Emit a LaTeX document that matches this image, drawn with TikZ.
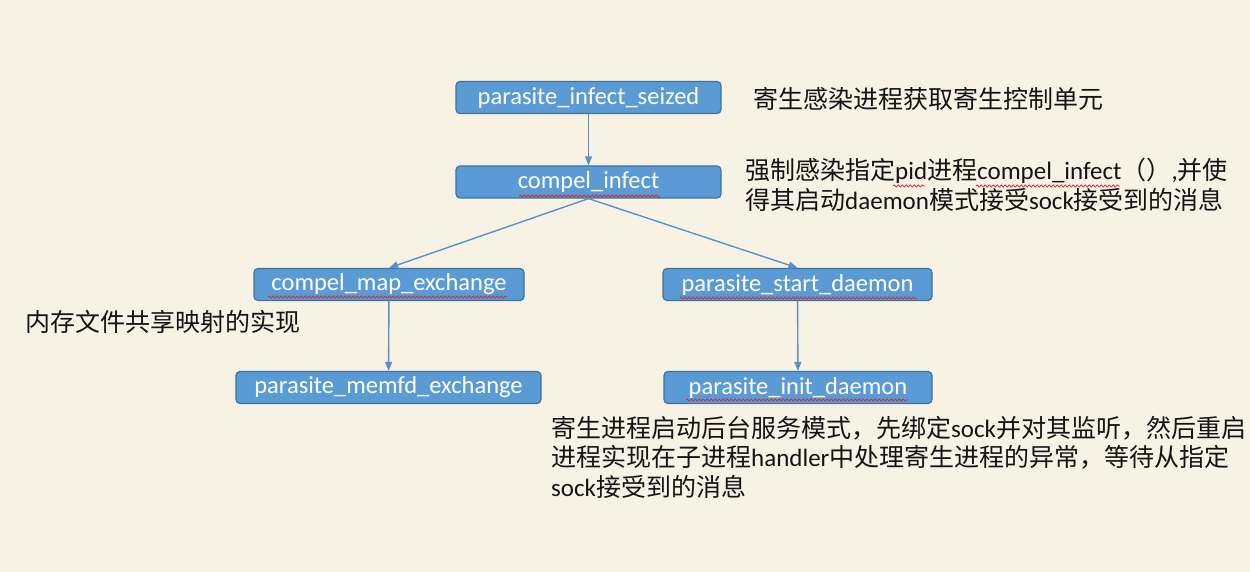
\documentclass[tikz,border=0pt]{standalone}
\usepackage{fontspec}
\setmainfont{Carlito}
\newfontfamily\cjk{Noto Sans CJK SC}
\usetikzlibrary{arrows.meta,decorations.pathmorphing}
\definecolor{bgcream}{RGB}{248,242,229}
\definecolor{boxblue}{RGB}{91,155,213}
\definecolor{boxedge}{RGB}{65,113,156}
\definecolor{arrowblue}{RGB}{91,143,200}
\definecolor{inkblack}{RGB}{20,20,20}
\definecolor{wavered}{RGB}{215,40,40}
\newcommand{\zh}[1]{{\cjk #1}}
\tikzset{
  fnbox/.style={rectangle, rounded corners=4pt, fill=boxblue, draw=boxedge, line width=1.2pt,
    text=white, minimum height=32pt, inner sep=0pt, font=\fontsize{24.5}{28}\selectfont},
  conn/.style={draw=arrowblue, line width=1.4pt, -{Triangle[length=9pt,width=7pt]}},
  note/.style={inner sep=0pt, text=inkblack, align=left, font=\fontsize{25}{29.5}\selectfont},
  wavy/.style={draw=wavered, line width=0.7pt, decorate,
    decoration={snake, amplitude=1.2pt, segment length=4pt}}
}
\begin{document}
\begin{tikzpicture}[x=1pt,y=-1pt]
\fill[bgcream] (0,0) rectangle (1250,572);
\useasboundingbox (0,0) rectangle (1250,572);

\node[fnbox, minimum width=265pt] (b1) at (588.5,97.5) {parasite\_infect\_seized};
\node[fnbox, minimum width=265pt] (b2) at (588.5,182) {compel\_infect};
\node[fnbox, minimum width=270pt] (b3) at (389,284.5) {compel\_map\_exchange};
\node[fnbox, minimum width=269pt] (b4) at (797.5,284.5) {parasite\_start\_daemon};
\node[fnbox, minimum width=305pt] (b5) at (388.5,387.5) {parasite\_memfd\_exchange};
\node[fnbox, minimum width=268pt] (b6) at (798,387.5) {parasite\_init\_daemon};

\draw[conn] (b1) -- (b2);
\draw[conn] (b2.south) -- (b3.north);
\draw[conn] (b2.south) -- (b4.north);
\draw[conn] (b3) -- (b5);
\draw[conn] (b4) -- (b6);

\node[note, anchor=west] (t1) at (753,99) {\zh{寄生感染进程获取寄生控制单元}};
\node[note, anchor=north west] (t2) at (745,158) {\zh{强制感染指定}pid\zh{进程}compel\_infect\zh{（）},\zh{并使}\\
\zh{得其启动}daemon\zh{模式接受}sock\zh{接受到的消息}};
\node[note, anchor=west] (t3) at (25,322) {\zh{内存文件共享映射的实现}};
\node[note, anchor=north west] (t4) at (551,416) {\zh{寄生进程启动后台服务模式，先绑定}sock\zh{并对其监听，然后重启}\\
\zh{进程实现在子进程}handler\zh{中处理寄生进程的异常，等待从指定}\\
sock\zh{接受到的消息}};

% spell-check wavy underlines
\draw[wavy] (519,196) -- (660,196);
\draw[wavy] (268,297) -- (508,297);
\draw[wavy] (680,298) -- (917,298);
\draw[wavy] (686,400) -- (908,400);
\draw[wavy] (893,186) -- (925,186);
\draw[wavy] (976,186) -- (1120,186);
\end{tikzpicture}
\end{document}
